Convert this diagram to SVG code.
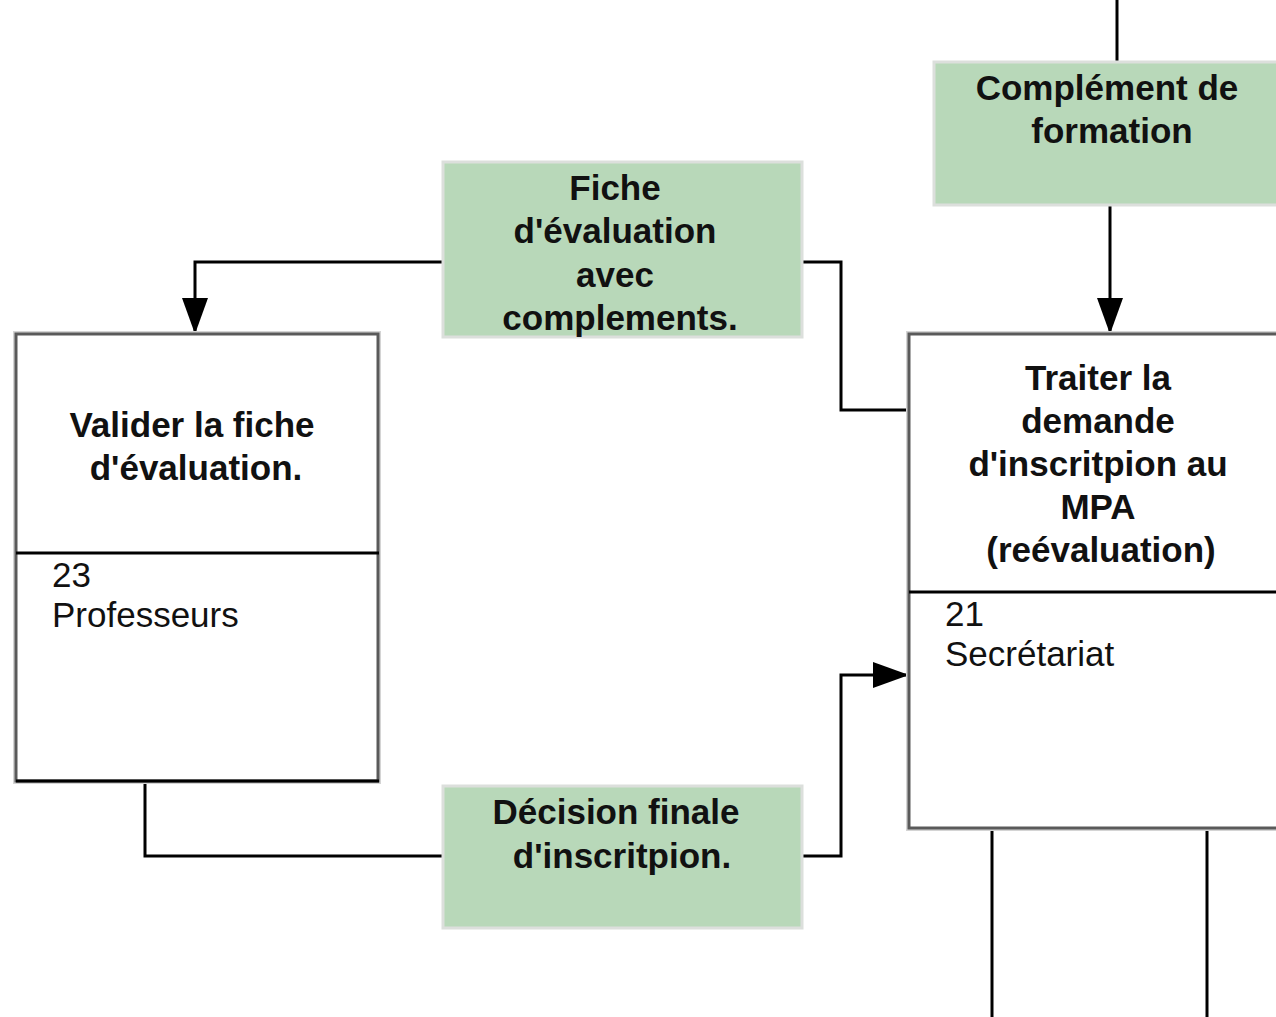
<svg xmlns="http://www.w3.org/2000/svg" width="1276" height="1017" viewBox="0 0 1276 1017">
<defs>
<style>
.proc{fill:#ffffff;stroke:#5a5a5a;stroke-width:3}
.procHalo{fill:none;stroke:#d4d4d4;stroke-width:6}
.div{stroke:#000;stroke-width:3}
.data{fill:#b8d8b9;stroke:#dcdfdc;stroke-width:3}
.t{font-family:"Liberation Sans",Arial,sans-serif;font-size:35px;font-weight:bold;fill:#111;text-anchor:middle}
.r{font-family:"Liberation Sans",Arial,sans-serif;font-size:35px;fill:#111}
.c{fill:none;stroke:#000;stroke-width:3}
</style>
<marker id="ah" markerWidth="38" markerHeight="28" refX="36" refY="13" viewBox="0 0 38 28" markerUnits="userSpaceOnUse" orient="auto">
<path d="M0,0 L36,13 L0,26 Z" fill="#000"/>
</marker>
</defs>
<rect width="1276" height="1017" fill="#fff"/>

<g id="connectors">
<path class="c" d="M442,262 H195 V334" marker-end="url(#ah)"/>
<path class="c" d="M909,410 H841 V262 H803"/>
<path class="c" d="M145,781 V856 H442"/>
<path class="c" d="M803,856 H841 V675 H909" marker-end="url(#ah)"/>
<path class="c" d="M1117,0 V62"/>
<path class="c" d="M1110,205 V334" marker-end="url(#ah)"/>
<path class="c" d="M992,828 V1017"/>
<path class="c" d="M1207,828 V1017"/>
</g>

<g id="node-valider">
<rect class="procHalo" x="16" y="334" width="362" height="447"/>
<rect class="proc" x="16" y="334" width="362" height="447"/>
<line class="div" x1="16" y1="553" x2="379" y2="553"/>
<line class="div" x1="16" y1="781" x2="379" y2="781"/>
<text class="t" x="192" y="437">Valider la fiche</text>
<text class="t" x="196" y="480">d'évaluation.</text>
<text class="r" x="52" y="587">23</text>
<text class="r" x="52" y="627">Professeurs</text>
</g>

<g id="node-traiter">
<rect class="procHalo" x="909" y="334" width="380" height="494"/>
<rect class="proc" x="909" y="334" width="380" height="494"/>
<line class="div" x1="909" y1="592" x2="1276" y2="592"/>
<text class="t" x="1098" y="390">Traiter la</text>
<text class="t" x="1098" y="433">demande</text>
<text class="t" x="1098" y="476">d'inscritpion au</text>
<text class="t" x="1098" y="519">MPA</text>
<text class="t" x="1101" y="562">(reévaluation)</text>
<text class="r" x="945" y="626">21</text>
<text class="r" x="945" y="666">Secrétariat</text>
</g>

<g id="data-fiche">
<rect class="data" x="443" y="162" width="359" height="175"/>
<text class="t" x="615" y="200">Fiche</text>
<text class="t" x="615" y="243">d'évaluation</text>
<text class="t" x="615" y="287">avec</text>
<text class="t" x="620" y="330">complements.</text>
</g>

<g id="data-complement">
<rect class="data" x="934" y="62" width="360" height="143"/>
<text class="t" x="1107" y="100">Complément de</text>
<text class="t" x="1112" y="143">formation</text>
</g>

<g id="data-decision">
<rect class="data" x="443" y="786" width="359" height="142"/>
<text class="t" x="616" y="824">Décision finale</text>
<text class="t" x="622" y="868">d'inscritpion.</text>
</g>
</svg>
